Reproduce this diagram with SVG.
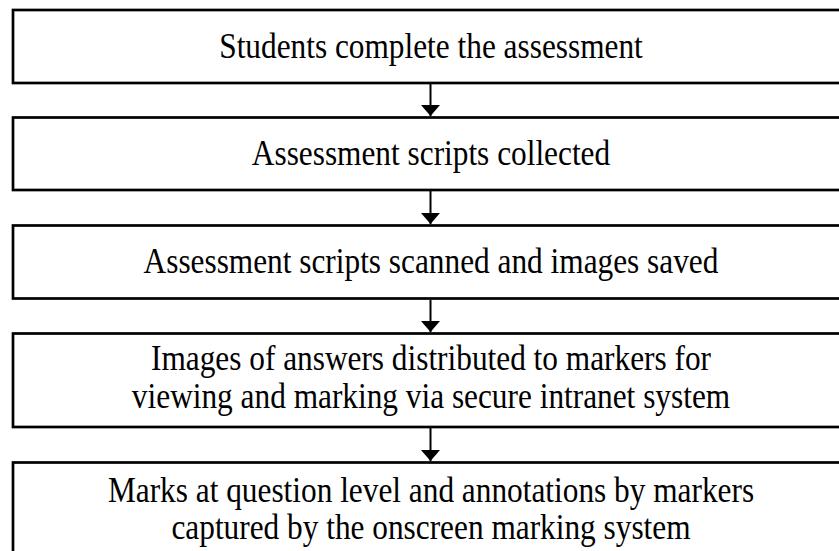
<svg xmlns="http://www.w3.org/2000/svg" width="839" height="551" viewBox="0 0 839 551">
<style>
.box{fill:#fff;stroke:#000;stroke-width:2.7}
.t{font-family:"Liberation Serif","Times New Roman",serif;font-size:36px;fill:#000;text-anchor:middle}
.c{stroke:#000;stroke-width:2;fill:none}
</style>
<defs>
<marker id="ah" markerUnits="userSpaceOnUse" markerWidth="12" markerHeight="20" refX="11" refY="9.5" orient="auto">
<path d="M0,0 L11,9.5 L0,19 Z" fill="#000"/>
</marker>
</defs>
<rect width="839" height="551" fill="#fff"/>
<g id="n1"><rect class="box" x="13" y="10" width="850" height="73"/><text class="t" transform="translate(431,0) scale(0.87,1)" x="0" y="58.5">Students complete the assessment</text></g>
<g id="n2"><rect class="box" x="13" y="117.5" width="850" height="72.5"/><text class="t" transform="translate(431,0) scale(0.87,1)" x="0" y="165.5">Assessment scripts collected</text></g>
<g id="n3"><rect class="box" x="13" y="225.5" width="850" height="73"/><text class="t" transform="translate(431,0) scale(0.87,1)" x="0" y="273.5">Assessment scripts scanned and images saved</text></g>
<g id="n4"><rect class="box" x="13" y="333.5" width="850" height="93.5"/><text class="t" transform="translate(431,0) scale(0.87,1)" x="0" y="370">Images of answers distributed to markers for</text><text class="t" transform="translate(431,0) scale(0.87,1)" x="0" y="408">viewing and marking via secure intranet system</text></g>
<g id="n5"><rect class="box" x="13" y="462.5" width="850" height="100"/><text class="t" transform="translate(431,0) scale(0.87,1)" x="0" y="502">Marks at question level and annotations by markers</text><text class="t" transform="translate(431,0) scale(0.87,1)" x="0" y="539">captured by the onscreen marking system</text></g>
<g id="connectors">
<line class="c" x1="430.5" y1="84" x2="430.5" y2="116" marker-end="url(#ah)"/>
<line class="c" x1="430.5" y1="191" x2="430.5" y2="224" marker-end="url(#ah)"/>
<line class="c" x1="430.5" y1="300" x2="430.5" y2="332" marker-end="url(#ah)"/>
<line class="c" x1="430.5" y1="428" x2="430.5" y2="461" marker-end="url(#ah)"/>
</g>
</svg>
